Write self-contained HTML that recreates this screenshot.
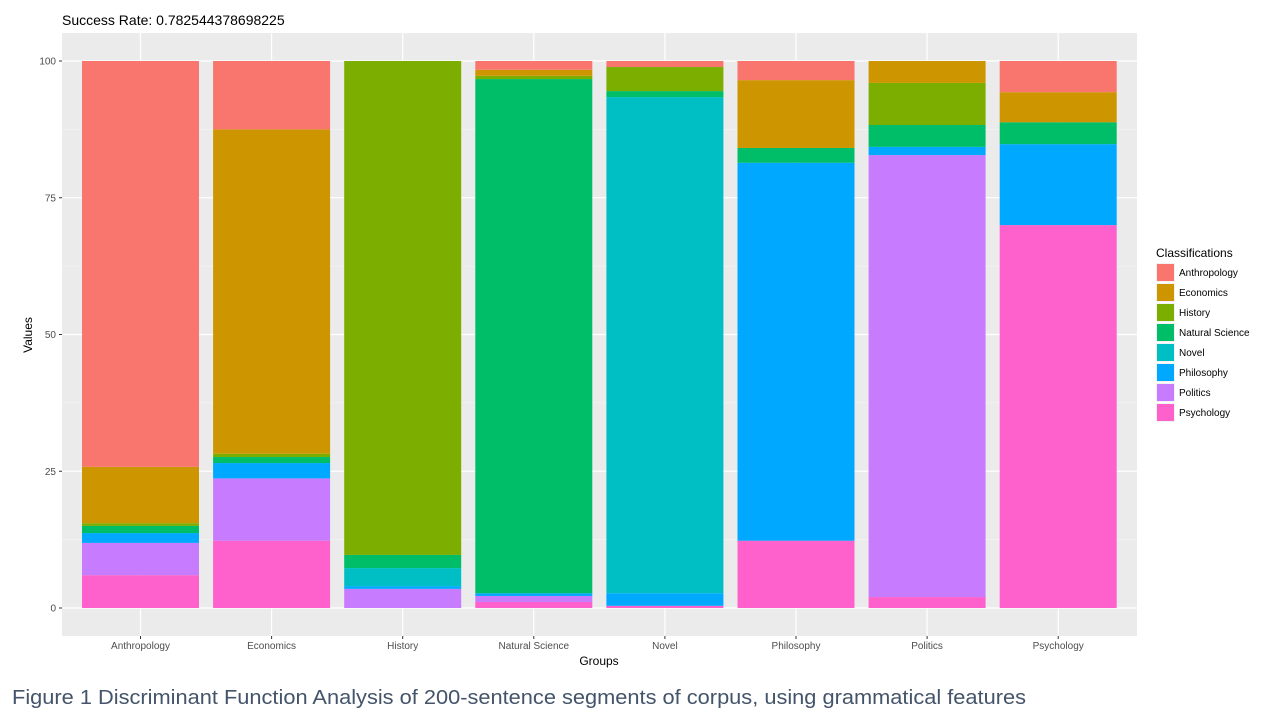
<!DOCTYPE html>
<html><head><meta charset="utf-8"><style>
body{margin:0;background:#fff;}
svg{display:block;font-family:"Liberation Sans",sans-serif;}
</style></head><body>
<svg id="chart" width="1262" height="727"></svg>
<script>
const categories=["Anthropology","Economics","History","Natural Science","Novel","Philosophy","Politics","Psychology"];
const classes=["Anthropology","Economics","History","Natural Science","Novel","Philosophy","Politics","Psychology"];
const colors=["#F8766D","#CD9600","#7CAE00","#00BE67","#00BFC4","#00A9FF","#C77CFF","#FF61CC"];
// values per group, in class order (Anthropology..Psychology)
const vAnthropology=[74.2,10.3,0.5,1.3,0,1.8,5.9,6.0];
const vEconomics=[12.5,59.3,0.6,1.1,0,2.8,11.4,12.3];
const vHistory=[0,0,90.3,2.4,3.3,0.5,3.5,0];
const vNaturalScience=[1.6,1.1,0.6,94.0,0,0.5,1.1,1.1];
const vNovel=[1.1,0,4.4,1.1,90.7,2.3,0,0.4];
const vPhilosophy=[3.5,12.4,0,2.7,0,69.1,0,12.3];
const vPolitics=[0,4.0,7.7,4.0,0,1.5,80.8,2.0];
const vPsychology=[5.7,5.5,0,4.0,0,14.8,0,70.0];
const series=[vAnthropology,vEconomics,vHistory,vNaturalScience,vNovel,vPhilosophy,vPolitics,vPsychology];
const yTicks=[0,25,50,75,100];

const NS="http://www.w3.org/2000/svg";
const svg=document.getElementById('chart');
function mk(t,a,p){const e=document.createElementNS(NS,t);for(const k in a)e.setAttribute(k,a[k]);(p||svg).appendChild(e);return e;}
const px0=62,px1=1137,py0=33,py1=636;
const y=v=>608-v*5.47;
const step=131.1;
const x=i=>140.5+step*i;
const bw=117;

const panel=mk('rect',{x:px0,y:py0,width:px1-px0,height:py1-py0,fill:'#EBEBEB'});


for(let i=0;i<yTicks.length-1;i++){
  const m=(yTicks[i]+yTicks[i+1])/2;
  mk('line',{x1:px0,x2:px1,y1:y(m),y2:y(m),stroke:'#F7F7F7','stroke-width':0.6});
}
yTicks.forEach(t=>{
  const g=mk('line',{x1:px0,x2:px1,y1:y(t),y2:y(t),stroke:'#fff','stroke-width':1.2});
  
  
  mk('line',{x1:px0-3,x2:px0,y1:y(t),y2:y(t),stroke:'#333','stroke-width':1});
  const tl=mk('text',{x:px0-6,y:y(t)+3.5,'text-anchor':'end','font-size':10,fill:'#4D4D4D'});
  tl.textContent=t;
  
  
});
categories.forEach((c,i)=>{
  mk('line',{x1:x(i),x2:x(i),y1:py0,y2:py1,stroke:'#fff','stroke-width':1.2});
  mk('line',{x1:x(i),x2:x(i),y1:py1,y2:py1+3,stroke:'#333','stroke-width':1});
  const tl=mk('text',{x:x(i),y:py1+13,'text-anchor':'middle','font-size':10,fill:'#4D4D4D'});
  tl.textContent=c;
  
  
});
series.forEach((vals,i)=>{
  let acc=0;
  for(let k=classes.length-1;k>=0;k--){
    const v=vals[k];
    if(v<=0)continue;
    const r=mk('rect',{x:x(i)-bw/2,y:y(acc+v),width:bw,height:v*5.47,fill:colors[k]});
    
    
    acc+=v;
  }
});
const title=mk('text',{x:62,y:25,'font-size':14,fill:'#000'});
title.textContent='Success Rate: 0.782544378698225';


const yl=mk('text',{x:0,y:0,'font-size':12,fill:'#000','text-anchor':'middle',transform:'translate(32,335) rotate(-90)'});
yl.textContent='Values';


const xl=mk('text',{x:599,y:665,'font-size':12,fill:'#000','text-anchor':'middle'});
xl.textContent='Groups';


const lt=mk('text',{x:1156,y:257,'font-size':12,fill:'#000'});
lt.textContent='Classifications';


classes.forEach((c,k)=>{
  const yy=263+k*20;
  const g=mk('g',{});
  
  
  mk('rect',{x:1156,y:yy,width:19,height:19,fill:'#F2F2F2'},g);
  mk('rect',{x:1157,y:yy+1,width:17,height:17,fill:colors[k]},g);
  const t=mk('text',{x:1179,y:yy+13,'font-size':10,fill:'#000'},g);
  t.textContent=c;
});
const cap=mk('text',{x:12,y:704,'font-size':20,fill:'#44546A',textLength:1014,lengthAdjust:'spacingAndGlyphs'});
cap.textContent='Figure 1 Discriminant Function Analysis of 200-sentence segments of corpus, using grammatical features';


</script>
</body></html>
